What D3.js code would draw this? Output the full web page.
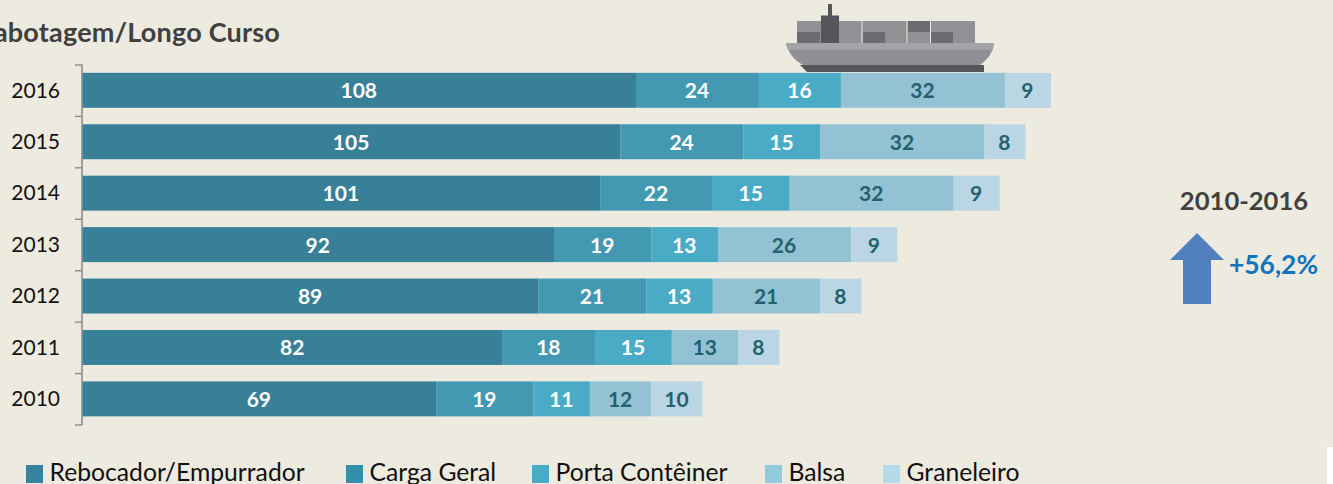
<!DOCTYPE html>
<html><head><meta charset="utf-8">
<script src="https://cdn.jsdelivr.net/npm/d3@7"></script>
<style>
html,body{margin:0;padding:0;background:#edeadf;overflow:hidden}
svg{display:block}
text{font-family:Lato,"Open Sans",sans-serif}
</style></head><body>
<script>
const years=["2016","2015","2014","2013","2012","2011","2010"];
const seriesNames=["Rebocador/Empurrador","Carga Geral","Porta Contêiner","Balsa","Graneleiro"];
const rebocador=[108,105,101,92,89,82,69];
const cargaGeral=[24,24,22,19,21,18,19];
const portaConteiner=[16,15,15,13,13,15,11];
const balsa=[32,32,32,26,21,13,12];
const graneleiro=[9,8,9,9,8,8,10];
const seriesValues=[rebocador,cargaGeral,portaConteiner,balsa,graneleiro];
const barColors=["#378097","#4399b2","#4aabc6","#93c2d5","#bad6e4"];
const legendColors=["#3682a0","#358eab","#4aabc6","#93cbde","#b6dbe8"];
const labelColors=["#fff","#fff","#fff","#24616f","#24616f"];
const legendX=[26,346,532,765,883];

const W=1333,H=484;
const svg=d3.select("body").append("svg").attr("width",W).attr("height",H);
svg.append("rect").attr("width",W).attr("height",H).attr("fill","#edeadf");
svg.append("rect").attr("x",1327).attr("y",447).attr("width",6).attr("height",37).attr("fill","#fff");

const x=d3.scaleLinear().domain([0,189]).range([82.6,1051]);
const y=d3.scaleBand().domain(years).range([64.6,424.6]).paddingInner(0.32).paddingOuter(0.16);

// title
svg.append("text").attr("x",280).attr("y",41.5).attr("text-anchor","end")
  .attr("font-size",27).attr("letter-spacing",0.2).attr("font-weight",700).attr("fill","#404040").text("Cabotagem/Longo Curso");

// ship
const ship=svg.append("g");
ship.append("rect").attr("x",828).attr("y",4).attr("width",4).attr("height",12).attr("fill","#55565a");
ship.append("rect").attr("x",797).attr("y",21).attr("width",178).attr("height",22).attr("fill","#909195");
[[797,32,23,11],[863,32,22,11],[908,21,22,11],[931,32,22,11]].forEach(r=>ship.append("rect")
  .attr("x",r[0]).attr("y",r[1]).attr("width",r[2]).attr("height",r[3]).attr("fill","#6b6c70"));
[861.5,906.5,930].forEach(g=>ship.append("rect").attr("x",g).attr("y",21).attr("width",1).attr("height",22).attr("fill","#edeadf"));
ship.append("rect").attr("x",821).attr("y",15.5).attr("width",18).attr("height",28).attr("fill","#55565a");
ship.append("path").attr("d","M807,72 L984,72 L984,65 L800,65 Z").attr("fill","#55565a");
ship.append("path").attr("d","M786,43 L994,43 C993,53 987,60 980,65 L803,65 C795,61 788,53 786,43 Z").attr("fill","#8f9093");
ship.append("path").attr("d","M786,43 L994,43 L993,50 L788,50 Z").attr("fill","#a2a4a7");

// axis
const axisG=svg.append("g");
axisG.append("line").attr("x1",82).attr("x2",82).attr("y1",64.5).attr("y2",425).attr("stroke","#8c8c8c").attr("stroke-width",1.6);
d3.range(years.length+1).forEach(i=>{
  const yy=65+i*y.step();
  axisG.append("line").attr("x1",75).attr("x2",82).attr("y1",yy).attr("y2",yy).attr("stroke","#8c8c8c").attr("stroke-width",1.4);
});
svg.selectAll("text.year").data(years).join("text").attr("class","year")
  .attr("x",60).attr("y",d=>y(d)+y.bandwidth()/2+7.2).attr("text-anchor","end")
  .attr("font-size",21).attr("fill","#111").text(d=>d);

// bars
seriesValues.forEach((vals,s)=>{
  const rows=years.map((yr,i)=>{
    let b=0; for(let k=0;k<s;k++) b+=seriesValues[k][i];
    return {yr,v:vals[i],b};
  });
  const g=svg.append("g");
  g.selectAll("rect").data(rows).join("rect")
    .attr("x",d=>x(d.b)).attr("y",d=>y(d.yr)).attr("width",d=>x(d.b+d.v)-x(d.b)).attr("height",y.bandwidth())
    .attr("fill",barColors[s]);
  g.selectAll("text").data(rows).join("text")
    .attr("x",d=>x(d.b+d.v/2)-0.5).attr("y",d=>y(d.yr)+y.bandwidth()/2+8)
    .attr("text-anchor","middle").attr("font-size",21).attr("font-weight",700)
    .attr("fill",labelColors[s]).text(d=>d.v);
});

// right note
svg.append("text").attr("x",1244).attr("y",210).attr("text-anchor","middle").attr("font-size",25.6).attr("font-weight",700).attr("fill","#404040").text("2010-2016");
svg.append("path").attr("d","M1197,233 L1224,260 L1211,260 L1211,304 L1183,304 L1183,260 L1170,260 Z").attr("fill","#5080bd");
svg.append("text").attr("x",1229).attr("y",274).attr("font-size",26.4).attr("font-weight",700).attr("fill","#0f74bd").text("+56,2%");

// legend
seriesNames.forEach((n,i)=>{
  svg.append("rect").attr("x",legendX[i]).attr("y",465).attr("width",17).attr("height",18).attr("fill",legendColors[i]);
  svg.append("text").attr("x",legendX[i]+23.5).attr("y",481).attr("font-size",24.7).attr("fill","#111").text(n);
});
</script>
</body></html>
